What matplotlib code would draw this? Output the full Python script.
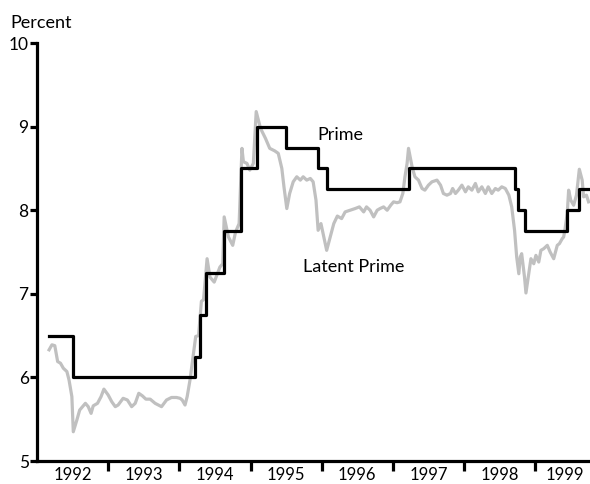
import matplotlib
matplotlib.use('Agg')
import matplotlib.pyplot as plt
from matplotlib import font_manager

# pick a narrow sans if present
names = set(f.name for f in font_manager.fontManager.ttflist)
fam = 'Liberation Sans Narrow' if 'Liberation Sans Narrow' in names else 'Lato'
plt.rcParams['font.family'] = [fam, 'DejaVu Sans']

# prime rate: change dates (decimal years) and rate in force from that date
prime_dates = [1992.17, 1992.50, 1994.22, 1994.29, 1994.37, 1994.63, 1994.87, 1995.09,
               1995.50, 1995.95, 1996.08, 1997.22, 1998.72, 1998.76, 1998.86, 1999.45,
               1999.62, 1999.77]
prime_rates = [6.50, 6.00, 6.25, 6.75, 7.25, 7.75, 8.50, 9.00,
               8.75, 8.50, 8.25, 8.50, 8.25, 8.00, 7.75, 8.00,
               8.25, 8.25]

# latent prime
latent_dates = [1992.17, 1992.21, 1992.25, 1992.29, 1992.33, 1992.37, 1992.42, 1992.45,
                1992.49, 1992.51, 1992.56, 1992.60, 1992.68, 1992.72, 1992.76, 1992.79,
                1992.85, 1992.90, 1992.94, 1993.00, 1993.05, 1993.10, 1993.14, 1993.21,
                1993.27, 1993.33, 1993.38, 1993.43, 1993.48, 1993.53, 1993.59, 1993.66,
                1993.75, 1993.82, 1993.89, 1993.96, 1994.01, 1994.04, 1994.08, 1994.11,
                1994.15, 1994.20, 1994.23, 1994.27, 1994.31, 1994.34, 1994.39, 1994.43,
                1994.49, 1994.57, 1994.61, 1994.63, 1994.69, 1994.75, 1994.79, 1994.84,
                1994.88, 1994.90, 1994.95, 1994.99, 1995.04, 1995.08, 1995.14, 1995.21,
                1995.27, 1995.34, 1995.39, 1995.44, 1995.47, 1995.51, 1995.55, 1995.60,
                1995.65, 1995.70, 1995.74, 1995.79, 1995.84, 1995.88, 1995.92, 1995.95,
                1995.99, 1996.02, 1996.07, 1996.12, 1996.17, 1996.22, 1996.28, 1996.33,
                1996.40, 1996.47, 1996.53, 1996.59, 1996.63, 1996.68, 1996.73, 1996.78,
                1996.82, 1996.87, 1996.92, 1996.97, 1997.01, 1997.06, 1997.10, 1997.14,
                1997.17, 1997.20, 1997.22, 1997.27, 1997.31, 1997.36, 1997.41, 1997.45,
                1997.50, 1997.55, 1997.62, 1997.67, 1997.71, 1997.76, 1997.81, 1997.84,
                1997.88, 1997.92, 1997.97, 1998.02, 1998.06, 1998.11, 1998.16, 1998.20,
                1998.25, 1998.30, 1998.34, 1998.39, 1998.44, 1998.48, 1998.53, 1998.58,
                1998.63, 1998.67, 1998.71, 1998.74, 1998.77, 1998.79, 1998.81, 1998.85,
                1998.87, 1998.91, 1998.94, 1998.98, 1999.01, 1999.05, 1999.08, 1999.12,
                1999.17, 1999.21, 1999.26, 1999.31, 1999.34, 1999.38, 1999.40, 1999.42,
                1999.45, 1999.47, 1999.50, 1999.54, 1999.58, 1999.62, 1999.66, 1999.68,
                1999.72, 1999.75]
latent_vals = [6.33, 6.39, 6.38, 6.19, 6.17, 6.11, 6.07, 5.97,
               5.77, 5.35, 5.49, 5.61, 5.69, 5.65, 5.57, 5.66,
               5.69, 5.77, 5.86, 5.79, 5.71, 5.65, 5.67, 5.75,
               5.73, 5.65, 5.69, 5.81, 5.78, 5.74, 5.74, 5.69,
               5.65, 5.73, 5.76, 5.76, 5.75, 5.73, 5.67, 5.77,
               5.97, 6.29, 6.49, 6.50, 6.91, 6.93, 7.42, 7.20,
               7.14, 7.32, 7.36, 7.92, 7.68, 7.58, 7.74, 7.84,
               8.74, 8.58, 8.56, 8.48, 8.56, 9.18, 8.98, 8.86,
               8.74, 8.71, 8.68, 8.50, 8.28, 8.02, 8.20, 8.34,
               8.40, 8.36, 8.40, 8.36, 8.38, 8.34, 8.12, 7.76,
               7.84, 7.72, 7.52, 7.68, 7.84, 7.93, 7.90, 7.98,
               8.00, 8.02, 8.04, 7.98, 8.04, 8.00, 7.92, 8.00,
               8.02, 8.04, 8.00, 8.06, 8.10, 8.09, 8.10, 8.20,
               8.40, 8.56, 8.74, 8.52, 8.40, 8.36, 8.26, 8.24,
               8.30, 8.34, 8.36, 8.30, 8.20, 8.18, 8.20, 8.26,
               8.20, 8.24, 8.30, 8.22, 8.28, 8.24, 8.32, 8.22,
               8.28, 8.20, 8.28, 8.20, 8.26, 8.24, 8.28, 8.26,
               8.18, 8.04, 7.76, 7.44, 7.24, 7.44, 7.48, 7.20,
               7.01, 7.24, 7.42, 7.36, 7.46, 7.38, 7.52, 7.54,
               7.58, 7.50, 7.42, 7.58, 7.60, 7.66, 7.68, 7.78,
               7.96, 8.24, 8.12, 8.06, 8.18, 8.49, 8.36, 8.16,
               8.18, 8.10]

years = [1992, 1993, 1994, 1995, 1996, 1997, 1998, 1999]
year_bounds = [1993, 1994, 1995, 1996, 1997, 1998, 1999]
yticks = [5, 6, 7, 8, 9, 10]

fig = plt.figure(figsize=(5.9, 4.84), dpi=100)
ax = fig.add_axes([0.0627, 0.0475, 0.9373, 0.8636])

ax.plot(latent_dates, latent_vals, color='#c0c0c0', lw=2.3, solid_joinstyle='round', zorder=2)
ax.plot(prime_dates, prime_rates, color='black', lw=2.3, drawstyle='steps-post', zorder=3)

ax.set_xlim(1992.0, 1999.77)
ax.set_ylim(5, 10)

for s in ['top', 'right']:
    ax.spines[s].set_visible(False)
for s in ['left', 'bottom']:
    ax.spines[s].set_linewidth(2.3)

ax.set_yticks(yticks)
ax.set_yticklabels([str(v) for v in yticks])
ax.tick_params(axis='y', length=5, width=2.3, pad=1, labelsize=12.5)

ax.set_xticks(year_bounds)
ax.set_xticklabels([])
ax.tick_params(axis='x', which='major', direction='out', length=7.5, width=2.3)
mids = [y + 0.5 for y in years[:-1]] + [1999.42]
ax.set_xticks(mids, minor=True)
ax.set_xticklabels([str(y) for y in years], minor=True)
ax.tick_params(axis='x', which='minor', length=0, pad=4, labelsize=12)

fig.text(0.017, 0.953, 'Percent', fontsize=13, va='center', ha='left')
ax.text(1995.94, 8.9, 'Prime', fontsize=13, ha='left', va='center')
ax.text(1995.74, 7.32, 'Latent Prime', fontsize=13, ha='left', va='center')

fig.savefig('out.png', dpi=100)
